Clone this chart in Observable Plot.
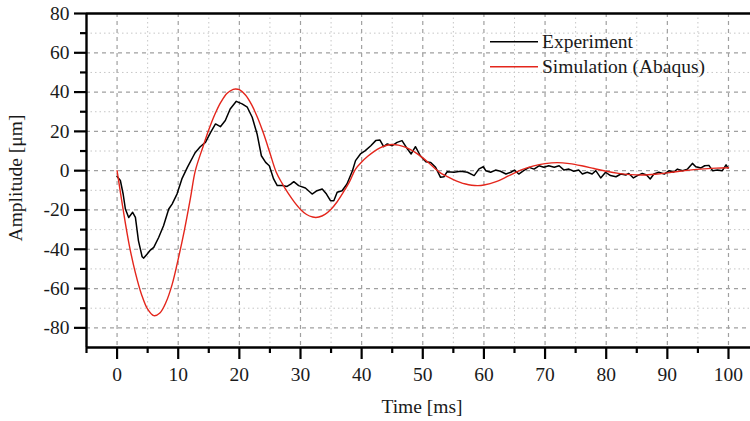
<!DOCTYPE html>
<html>
<head>
<meta charset="utf-8">
<script src="https://cdn.jsdelivr.net/npm/d3@7"></script>
<script src="https://cdn.jsdelivr.net/npm/@observablehq/plot@0.6"></script>
<style>
  html, body { margin: 0; padding: 0; background: #fff; }
  #chart svg { display: block; }
</style>
</head>
<body>
<div id="chart"></div>
<script>
// ---- Data ----
const simTime = [0, 1, 2, 3, 4, 5, 6, 7, 8, 9, 10, 11, 12, 12.8, 14, 15, 16, 17, 18, 19, 19.4, 20, 21, 22, 23, 24, 25, 26, 27, 28, 29, 30, 31, 32, 32.5, 33, 34, 35, 36, 37, 38, 39, 40, 41, 42, 43, 44, 45, 46, 47, 48, 49, 50, 51, 52, 53, 54, 55, 56, 57, 58, 59, 60, 62, 64, 66, 68, 70, 72, 74, 76, 78, 80, 82, 84, 86, 88, 90, 92, 94, 96, 98, 100];
const simAmp  = [0, -20, -38, -52, -63, -70.5, -73.8, -72.4, -67, -58, -45, -30.5, -14, 0, 11.7, 20.8, 28.7, 35, 39.4, 41.4, 41.6, 41.2, 38.5, 33.6, 26.8, 18.5, 9, -0.5, -6.5, -11.6, -16, -19.7, -22.3, -23.6, -23.8, -23.6, -22.2, -19.6, -15.8, -11, -5.7, 0.8, 4.4, 7.3, 9.7, 11.6, 12.8, 13.3, 13, 12.1, 10.7, 8.8, 6.5, 3.9, 1.1, -1.4, -3, -4.5, -5.8, -6.8, -7.4, -7.6, -7.3, -5.6, -2.7, 0.3, 2.3, 3.6, 4.1, 3.6, 2.5, 1.1, -0.3, -1.4, -2.0, -2.2, -1.8, -1.1, -0.3, 0.4, 0.9, 1.3, 1.5];

const expTime = [0, 0.54, 1.0, 1.36, 1.9, 2.55, 3.0, 3.5, 4.1, 4.36, 4.9, 5.45, 6, 6.8, 7.6, 8.45, 9, 9.8, 10.6, 11.5, 12.5, 12.8, 13.6, 14.45, 15.3, 16.1, 16.9, 17.7, 18.5, 19.5, 20.45, 21.3, 22.1, 22.9, 23.6, 24.3, 24.9, 25.6, 26.2, 27, 27.8,
  28.4, 28.9, 29.7, 30.8, 31.9, 32.7, 33.55, 34.25, 34.9, 35.45, 36, 36.8, 37.6, 38.5, 39, 39.8, 40.6, 41.5, 42.3, 43, 43.6, 44.2, 45, 45.8, 46.6, 47.5, 48.1, 48.8, 49.6, 50.5, 51.3, 52.1, 52.9, 53.45, 54, 55.1, 56.2, 57.3, 58.4, 59.2,
  59.9, 60.3, 61.1, 61.9, 62.7, 63.6, 64.4, 65, 65.7, 66.5, 67.4, 68.2, 69, 69.8, 70.6, 71.5, 72.3, 73.1, 73.9, 74.7, 75.5, 76.1, 76.9, 77.7, 78.3, 79.1, 79.9, 80.7, 81.6, 82.4, 83.2, 83.7, 84.45, 85.1, 85.9, 86.6, 87.2, 87.8, 88.6, 89.5, 90.3, 91, 91.65, 92.5, 93.3, 94.1, 94.65, 95.5, 96.1, 96.8, 97.4, 98.2, 99, 99.6, 99.9];
const expAmp  = [-3, -5, -12, -19.5, -23.8, -21.2, -23.8, -35.7, -43.8, -44.5, -42.5, -40.4, -39, -34, -28, -19.5, -17, -11.9, -4.2, 1.7, 7.6, 9.3, 12.2, 14.4, 19.5, 23.8, 22.4, 25.5, 31.4, 35.3, 34, 32.3, 27.2, 18.7, 7.6, 4.2, 2.5, -4.2, -7.6, -7.6, -8,
  -6.8, -5.6, -7.6, -8.8, -11.9, -10.2, -9.3, -11.9, -15.3, -15.3, -11, -10.2, -6.8, 0, 5.1, 8.5, 10.2, 12.7, 15.3, 15.6, 12.2, 13.6, 12.7, 14.4, 15.3, 11, 8.5, 12.2, 7.6, 4.6, 4.2, 1.7, -3.4, -3.1, -0.5, -0.8, -0.3, -0.8, -2.5, 0.9,
  2.0, 0, -0.8, 0.3, -0.3, -1.7, -0.8, 0.3, -1.7, 0, 1.7, 0.8, 2.5, 1.7, 2.5, 1.7, 2.5, 0.3, 0.8, -0.3, 0.3, -1.7, -0.8, -1.7, 0, -3.7, -0.8, -2.5, -3.1, -1.7, -2.2, -1.4, -3.7, -2.5, -1.4, -2.2, -4.2, -1.7, -0.8, -1.7, 0, -0.8, 0.8, 0, 0.8, 3.7, 2, 1.4, 2.5, 2.7, 0, 0.3, 0, 3, 1.4];

const xMajorTicks = [0, 10, 20, 30, 40, 50, 60, 70, 80, 90, 100];
const xMinorTicks = [-5, 5, 15, 25, 35, 45, 55, 65, 75, 85, 95];
const yMajorTicks = [-80, -60, -40, -20, 0, 20, 40, 60, 80];
const yMinorTicks = [-70, -50, -30, -10, 10, 30, 50, 70];
const seriesNames = ["Experiment", "Simulation (Abaqus)"];
const seriesColors = ["#000000", "#e4261c"];

// ---- Build tables ----
const sim = simTime.map((t, i) => ({t, a: simAmp[i]}));
const exp = expTime.map((t, i) => ({t, a: expAmp[i]}));

const X0 = -5, X1 = 103.6, Y0 = -90, Y1 = 80;
const font = "'Liberation Serif', 'Times New Roman', serif";

const svg = Plot.plot({
  width: 750,
  height: 421,
  marginTop: 13,
  marginBottom: 74,
  marginLeft: 86,
  marginRight: 0,
  x: {domain: [X0, X1], label: null},
  y: {domain: [Y0, Y1], label: null},
  style: {fontFamily: font, fontSize: "19px", background: "white", color: "black"},
  marks: [
    Plot.ruleX(xMinorTicks.filter(d => d > X0), {stroke: "#c6c6c6", strokeWidth: 1, strokeDasharray: "1.5,3"}),
    Plot.ruleY(yMinorTicks, {stroke: "#c6c6c6", strokeWidth: 1, strokeDasharray: "1.5,3"}),
    Plot.ruleX(xMajorTicks, {stroke: "#a0a0a0", strokeWidth: 1.2, strokeDasharray: "4,4"}),
    Plot.ruleY(yMajorTicks.filter(d => d < Y1), {stroke: "#a0a0a0", strokeWidth: 1.2, strokeDasharray: "4,4"}),
    Plot.line(exp, {x: "t", y: "a", stroke: seriesColors[0], strokeWidth: 1.5}),
    Plot.line(sim, {x: "t", y: "a", stroke: seriesColors[1], strokeWidth: 1.4, curve: "catmull-rom"}),
    Plot.axisX({ticks: xMajorTicks, tickSize: 12, tickPadding: 8, strokeWidth: 2.2, tickFormat: d => String(d), label: null, fontSize: 19.5, fontFamily: font, fill: "#1a1a1a"}),
    Plot.axisX({ticks: xMinorTicks, tickSize: 6, strokeWidth: 2.2, tickFormat: () => "", label: null}),
    Plot.axisY({ticks: yMajorTicks, tickSize: 12, tickPadding: 5, strokeWidth: 2.2, tickFormat: d => String(d), label: null, fontSize: 19.5, fontFamily: font, fill: "#1a1a1a"}),
    Plot.axisY({ticks: yMinorTicks, tickSize: 6, strokeWidth: 2.2, tickFormat: () => "", label: null}),
    Plot.ruleX([X0], {stroke: "black", strokeWidth: 2.4}),
    Plot.ruleY([Y0], {stroke: "black", strokeWidth: 2.4}),
    Plot.ruleY([Y1], {stroke: "black", strokeWidth: 2.4})
  ]
});

const s = d3.select(svg);
// Axis titles
s.append("text")
  .attr("x", 422).attr("y", 413)
  .attr("text-anchor", "middle")
  .style("font-family", font).style("font-size", "19.5px").attr("fill", "#1a1a1a")
  .text("Time [ms]");
s.append("text")
  .attr("transform", "translate(22,178) rotate(-90)")
  .attr("text-anchor", "middle")
  .style("font-family", font).style("font-size", "19.5px").attr("fill", "#1a1a1a")
  .text("Amplitude [μm]");

// Legend
const legendY = [41.7, 66.7];
seriesNames.forEach((name, i) => {
  s.append("line")
    .attr("x1", 490).attr("x2", 538)
    .attr("y1", legendY[i]).attr("y2", legendY[i])
    .attr("stroke", seriesColors[i]).attr("stroke-width", 1.5);
  s.append("text")
    .attr("x", 542).attr("y", legendY[i] + 6.5)
    .attr("text-anchor", "start")
    .style("font-family", font).style("font-size", "19.5px").attr("fill", "#1a1a1a")
    .text(name);
});

document.getElementById("chart").appendChild(svg);
</script>
</body>
</html>
